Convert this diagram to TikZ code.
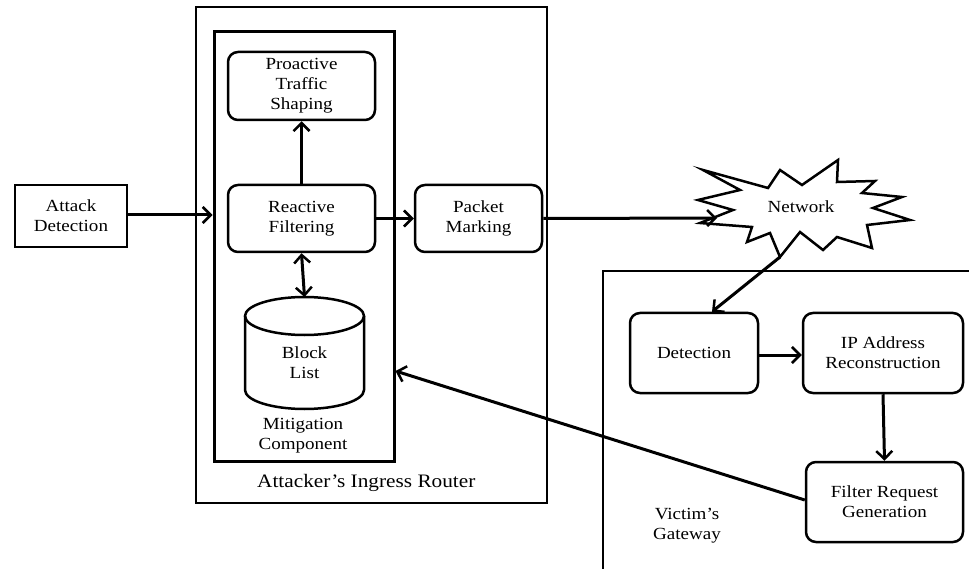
\documentclass[tikz,border=0pt]{standalone}
\usepackage{fontspec}
\setmainfont{Liberation Serif}[FakeStretch=1.12]
\usetikzlibrary{arrows.meta}

\begin{document}
\begin{tikzpicture}[x=1pt,y=-1pt,
  every node/.style={font=\fontsize{17}{20}\selectfont, align=center, inner sep=0pt},
  rbox/.style={draw, line width=2.5pt, rounded corners=10pt, fill=white},
  sbox/.style={draw, line width=2pt, fill=white},
  frame/.style={draw, line width=2pt},
  tip/.tip={Straight Barb[length=8pt,width=16pt,line width=2.5pt]},
  arr/.style={line width=3pt, -tip},
  darr/.style={line width=3pt, tip-tip},
]
\useasboundingbox (0,0) rectangle (969,569);
\clip (0,0) rectangle (969,569);

% attacker's ingress router and its mitigation component
\node[frame, minimum width=351pt, minimum height=496pt] (router) at (371.5,255) {};
\node[draw, line width=3pt, minimum width=180pt, minimum height=429pt] (mit) at (304,246.5) {};
\node[anchor=west, font=\fontsize{19}{22}\selectfont] (routerlbl) at (257,483) {Attacker's Ingress Router};
\node (mitlbl) at (303,436) {Mitigation\\Component};

\node[rbox, minimum width=147pt, minimum height=68pt] (pts) at (301.5,86) {Proactive\\Traffic\\Shaping};
\node[rbox, minimum width=147pt, minimum height=67pt] (rf) at (301.5,218.5) {Reactive\\Filtering};
\node[rbox, minimum width=127pt, minimum height=67pt] (pm) at (478.5,218.5) {Packet\\Marking};

% block list drawn as a cylinder
\draw[line width=2.5pt, fill=white] (245,316) -- (245,390) arc[start angle=180, end angle=0, x radius=59.5, y radius=19] -- (364,316);
\draw[line width=2.5pt] (304.5,316) ellipse[x radius=59.5, y radius=19];
\node (bl) at (304.5,363) {Block\\List};
\coordinate (bltop) at (304.5,297);

\node[sbox, minimum width=112pt, minimum height=62pt] (ad) at (71,216) {Attack\\Detection};

% network cloud
\draw[line width=2.5pt, fill=white, line join=miter]
  (703,170) -- (768,188) -- (780,170) -- (802,185) -- (838,160) -- (837,182)
  -- (875,181) -- (862,193) -- (902,197) -- (873,208) -- (910,220) -- (867,225)
  -- (872,248) -- (837,237) -- (823,250) -- (800,232) -- (780,257) -- (770,233)
  -- (747,242) -- (752,227) -- (700,223) -- (733,210) -- (698,200) -- (740,190) -- cycle;
\node (net) at (801,207) {Network};
\coordinate (netin) at (717,218);
\coordinate (netout) at (780,257);

% victim's gateway
\node[frame, anchor=north west, minimum width=400pt, minimum height=320pt] (vg) at (602,270) {};
\node (vglbl) at (687,526) {Victim's\\Gateway};
\node[rbox, minimum width=128pt, minimum height=80pt] (det) at (694,353) {Detection};
\node[rbox, minimum width=160pt, minimum height=80pt] (ip) at (883,353) {IP Address\\Reconstruction};
\node[rbox, minimum width=157pt, minimum height=80pt] (frg) at (884.5,502) {Filter Request\\Generation};

% connectors
\draw[arr] (ad.east |- 0,215) -- (mit.west |- 0,215);
\draw[arr] (rf.north) -- (pts.south);
\draw[darr] (rf.south) -- (bltop);
\draw[arr] (rf.east) -- (pm.west);
\draw[arr] (pm.east) -- (netin);
\draw[arr] (netout) -- ([xshift=18pt]det.north);
\draw[arr] (det.east |- 0,355) -- (ip.west |- 0,355);
\draw[arr] (ip.south) -- (frg.north);
\draw[arr] (frg.west |- 0,500) -- (mit.east |- 0,371);
\end{tikzpicture}
\end{document}
